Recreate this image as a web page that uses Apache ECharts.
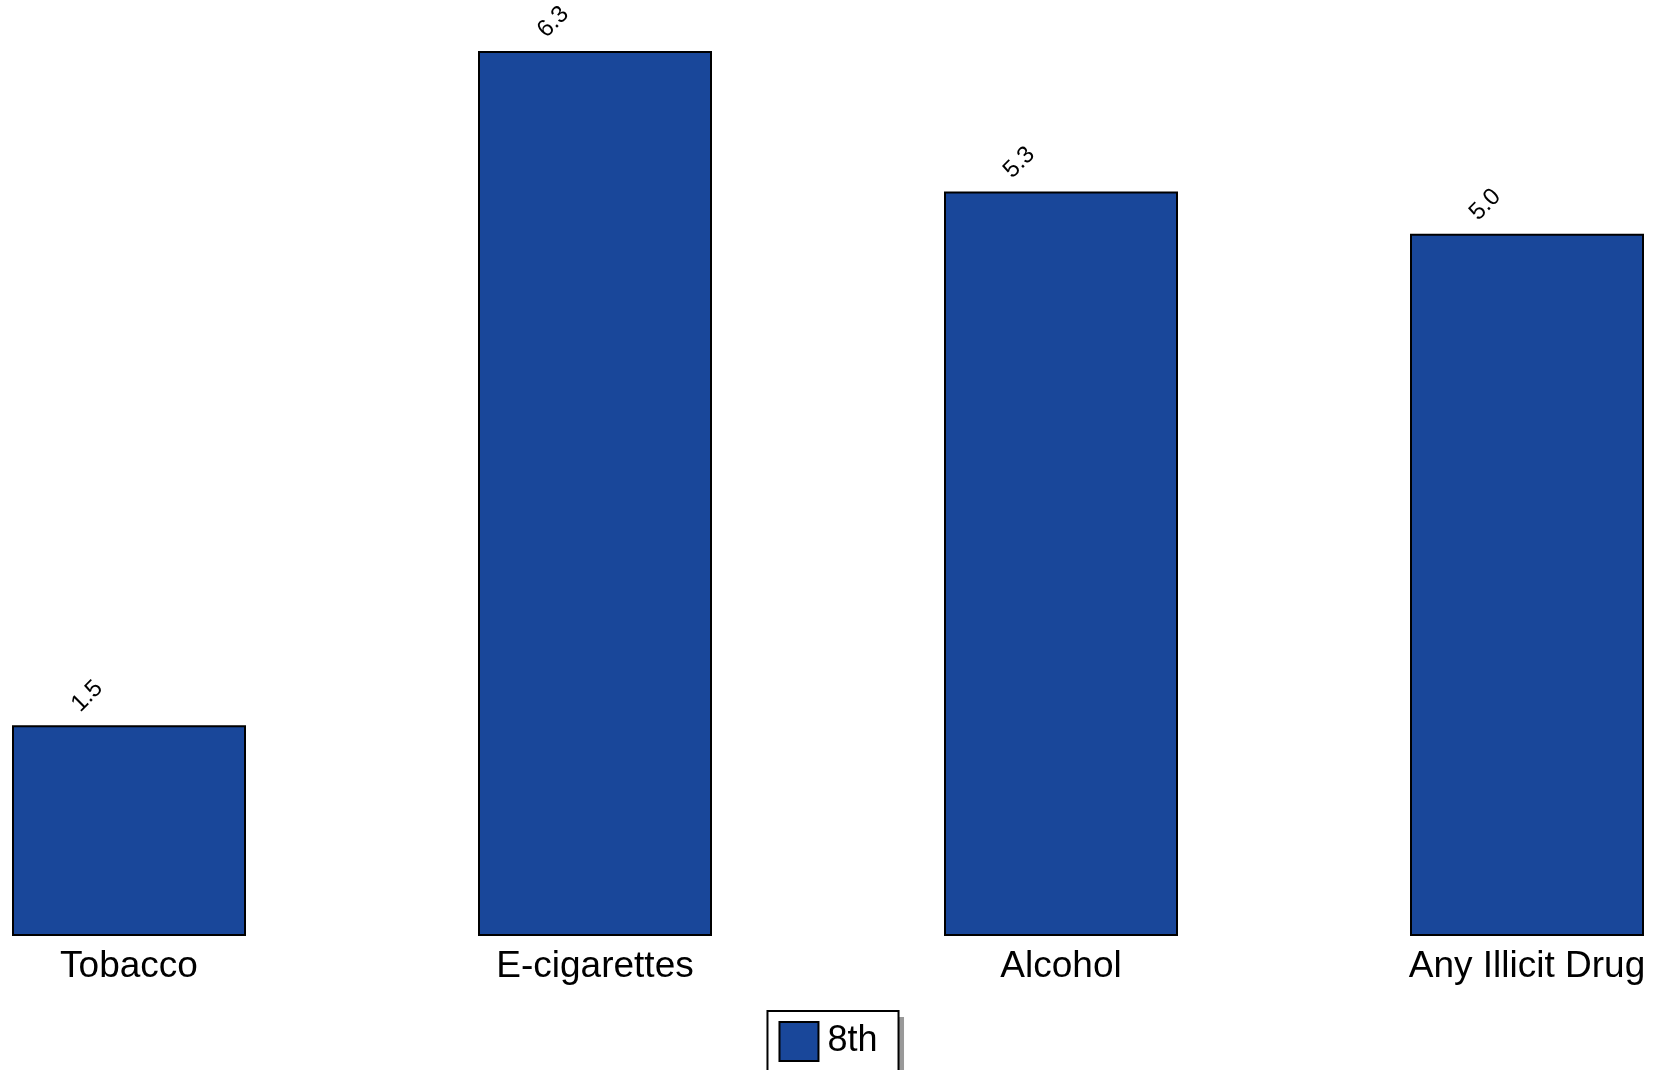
<!DOCTYPE html>
<html>
<head>
<meta charset="utf-8">
<script src="https://cdn.jsdelivr.net/npm/echarts@6/dist/echarts.min.js"></script>
<style>
html,body{margin:0;padding:0;background:#fff;}
#chart{width:1656px;height:1070px;}
</style>
</head>
<body>
<div id="chart"></div>
<script>
const categories = ['Tobacco', 'E-cigarettes', 'Alcohol', 'Any Illicit Drug'];
const seriesName = '8th';
const values = [1.5, 6.3, 5.3, 5.0];

const legendBase = {
  data: [{ name: seriesName, icon: 'rect' }],
  left: 'center',
  top: 1011,
  itemWidth: 39,
  itemHeight: 39,
  itemGap: 10,
  padding: [10, 21, 10, 11],
  borderRadius: 0
};

const chart = echarts.init(document.getElementById('chart'));
chart.setOption({
  animation: false,
  backgroundColor: '#ffffff',
  textStyle: { fontFamily: 'Liberation Sans, Arial, sans-serif' },
  grid: { left: 129, right: 129, top: 23, bottom: 134, containLabel: false },
  legend: [
    Object.assign({}, legendBase, {
      backgroundColor: '#ffffff',
      borderWidth: 0,
      shadowColor: '#999999',
      shadowOffsetX: 6,
      shadowOffsetY: 6,
      shadowBlur: 0,
      selectedMode: false,
      itemStyle: { color: 'rgba(0,0,0,0)', borderWidth: 0 },
      textStyle: { fontSize: 36, color: 'rgba(0,0,0,0)', fontFamily: 'Liberation Sans, Arial, sans-serif', padding: [0, 0, 0, 4] }
    }),
    Object.assign({}, legendBase, {
      backgroundColor: 'rgba(0,0,0,0)',
      borderColor: '#000000',
      borderWidth: 2,
      textStyle: { fontSize: 36, color: '#000', fontFamily: 'Liberation Sans, Arial, sans-serif', padding: [0, 0, 0, 4] }
    })
  ],
  xAxis: {
    type: 'category',
    data: categories,
    boundaryGap: false,
    axisLine: { show: false },
    axisTick: { show: false },
    splitLine: { show: false },
    axisLabel: { fontSize: 37, color: '#000', margin: 12, interval: 0 }
  },
  yAxis: {
    type: 'value',
    min: 0,
    max: 6.5,
    show: false,
    splitLine: { show: false }
  },
  series: [{
    name: seriesName,
    type: 'bar',
    data: values,
    barWidth: 234,
    itemStyle: { color: '#19479A', borderColor: '#000000', borderWidth: 2 },
    label: {
      show: true,
      position: 'top',
      distance: 0,
      rotate: 45,
      align: 'center',
      verticalAlign: 'middle',
      offset: [-9, -50],
      fontSize: 24,
      color: '#000',
      formatter: p => p.value.toFixed(1)
    }
  }]
});
</script>
</body>
</html>
